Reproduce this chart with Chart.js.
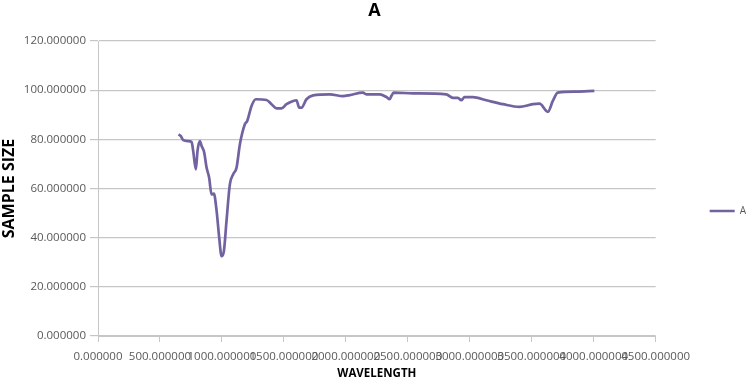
<!DOCTYPE html>
<html>
<head>
<meta charset="utf-8">
<script src="https://cdn.jsdelivr.net/npm/chart.js@4/dist/chart.umd.min.js"></script>
<style>
  html, body { margin: 0; padding: 0; background: #fff; }
  #wrap { width: 749px; height: 381px; }
</style>
</head>
<body>
<div id="wrap"><canvas id="chart"></canvas></div>
<script>
const WAVELENGTH = [
  650, 667, 688, 728, 755, 768, 790, 803, 822, 836, 857, 876, 897, 916, 935,
  957, 978, 997, 1016, 1037, 1064, 1091, 1118, 1145, 1185, 1204, 1239, 1274,
  1360, 1400, 1441, 1481, 1521, 1575, 1602, 1623, 1642, 1682, 1736, 1870,
  1977, 2031, 2138, 2165, 2273, 2327, 2353, 2367, 2386, 2541, 2810, 2864,
  2904, 2931, 2958, 3025, 3133, 3267, 3401, 3509, 3563, 3630, 3670, 3710,
  3858, 4005,
];
const SAMPLE_SIZE = [
  82.0, 81.4, 79.7, 79.3, 79.0, 75.3, 67.8, 75.3, 79.3, 77.3, 74.6, 68.5,
  64.4, 57.6, 57.9, 50.9, 40.0, 32.5, 34.6, 46.8, 61.7, 65.8, 68.5, 78.0,
  86.1, 87.5, 93.6, 96.3, 96.0, 94.3, 92.6, 92.6, 94.3, 95.6, 95.9, 92.9,
  92.9, 96.3, 97.9, 98.3, 97.6, 98.0, 99.0, 98.3, 98.3, 97.2, 96.3, 97.6,
  99.0, 98.7, 98.3, 96.9, 96.9, 95.9, 97.2, 97.2, 95.9, 94.3, 93.2, 94.3,
  94.5, 91.2, 95.6, 99.0, 99.4, 99.7,
];
const X_TICKS = [0, 500, 1000, 1500, 2000, 2500, 3000, 3500, 4000, 4500];
const Y_TICKS = [0, 20, 40, 60, 80, 100, 120];

const LINE_COLOR = "#7262a0";
const GRID_COLOR = "#c6c6c6";
const TICK_COLOR = "#595959";
const FONT = "'Open Sans', 'Liberation Sans', sans-serif";

const points = WAVELENGTH.map((x, i) => ({ x, y: SAMPLE_SIZE[i] }));

new Chart(document.getElementById("chart"), {
  type: "line",
  data: {
    datasets: [
      {
        label: "A",
        data: points,
        borderColor: LINE_COLOR,
        backgroundColor: LINE_COLOR,
        borderWidth: 2.7,
        pointRadius: 0,
        cubicInterpolationMode: "monotone",
        yAxisID: "y",
      },
    ],
  },
  options: {
    responsive: true,
    maintainAspectRatio: false,
    animation: false,
    // slightly negative sides so the title centre and legend sit where the original has them
    layout: { padding: { top: 0, bottom: 0, left: -7, right: -7 } },
    plugins: {
      title: {
        display: true,
        text: "A",
        color: "#000",
        font: { family: FONT, size: 18, weight: "bold" },
        padding: { top: 0, bottom: 19.4 },
      },
      legend: {
        position: "right",
        title: {
          display: true,
          text: "",
          font: { family: FONT, size: 10 },
          padding: { top: 0, bottom: 29 },
        },
        labels: {
          usePointStyle: true,
          pointStyle: "line",
          pointStyleWidth: 25,
          color: TICK_COLOR,
          font: { family: FONT, size: 10 },
          padding: 1,
        },
      },
      tooltip: { enabled: false },
    },
    scales: {
      x: {
        type: "linear",
        min: 0,
        max: 4500,
        afterBuildTicks: (scale) => {
          scale.ticks = X_TICKS.map((v) => ({ value: v }));
        },
        afterFit: (scale) => {
          scale.height = 45;
        },
        ticks: {
          autoSkip: false,
          maxRotation: 0,
          color: TICK_COLOR,
          font: { family: FONT, size: 11.5 },
          padding: 8,
          callback: (v) => Number(v).toFixed(6),
        },
        grid: {
          drawOnChartArea: false,
          drawTicks: true,
          tickLength: 6,
          color: GRID_COLOR,
        },
        border: { color: GRID_COLOR },
        title: {
          display: true,
          text: "WAVELENGTH",
          color: "#000",
          font: { family: FONT, size: 11.5, weight: "bold" },
          padding: { top: 0, bottom: 0 },
        },
      },
      y: {
        min: 0,
        max: 120,
        afterBuildTicks: (scale) => {
          scale.ticks = Y_TICKS.map((v) => ({ value: v }));
        },
        afterFit: (scale) => {
          scale.width = 105;
        },
        ticks: {
          color: TICK_COLOR,
          font: { family: FONT, size: 11.5 },
          padding: 4,
          callback: (v) => Number(v).toFixed(6),
        },
        grid: {
          color: GRID_COLOR,
          lineWidth: 1.2,
          tickLength: 8,
        },
        border: { color: GRID_COLOR },
        title: {
          display: true,
          text: "SAMPLE SIZE",
          color: "#000",
          font: { family: FONT, size: 16, weight: "bold" },
          padding: { top: 7, bottom: 0 },
        },
      },
      // empty strip between the plot and the legend
      gap: {
        position: "right",
        display: true,
        min: 0,
        max: 1,
        afterFit: (scale) => {
          scale.width = 53;
        },
        ticks: { display: false },
        grid: { display: false },
        border: { display: false },
      },
    },
  },
});
</script>
</body>
</html>
